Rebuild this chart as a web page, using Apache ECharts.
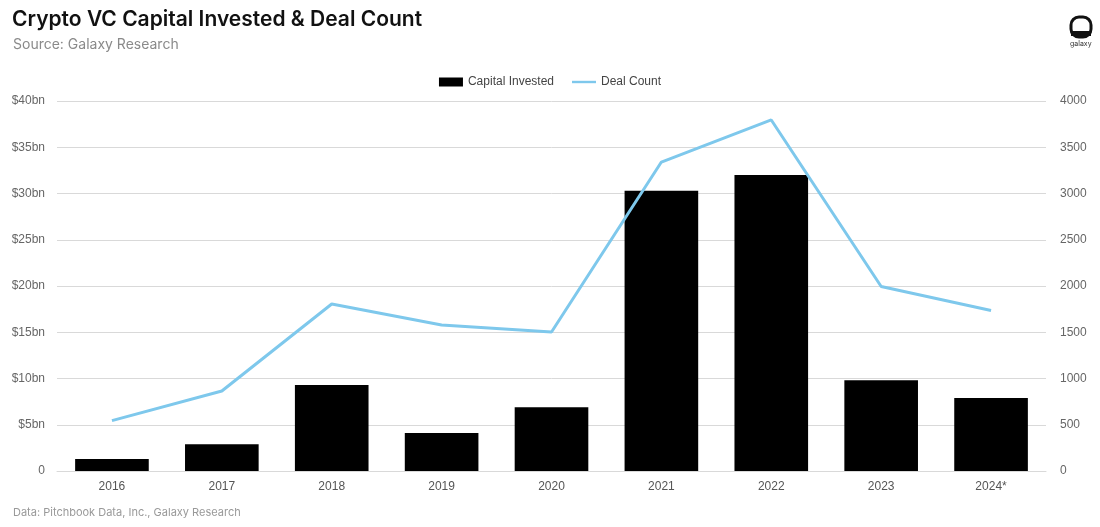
<!DOCTYPE html>
<html><head><meta charset="utf-8">
<script src="https://cdn.jsdelivr.net/npm/echarts@6/dist/echarts.min.js"></script>
<style>html,body{margin:0;padding:0;background:#fff}#c{width:1100px;height:527px}</style>
</head><body><div id="c"></div>
<script>
const categories = ['2016','2017','2018','2019','2020','2021','2022','2023','2024*'];
const capitalInvested = [1.3, 2.9, 9.3, 4.1, 6.9, 30.3, 32.0, 9.8, 7.9];
const dealCount = [545, 865, 1805, 1578, 1503, 3340, 3795, 1995, 1735];
const leftTicks = ['0','$5bn','$10bn','$15bn','$20bn','$25bn','$30bn','$35bn','$40bn'];

const chart = echarts.init(document.getElementById('c'), null, {renderer:'canvas'});
chart.setOption({
  animation:false,
  backgroundColor:'#fff',
  textStyle:{fontFamily:'Liberation Sans, Arial, sans-serif'},
  title:[
    {text:'Crypto VC Capital Invested & Deal Count', left:7, top:4,
     textStyle:{fontFamily:'Inter, sans-serif', fontSize:21, fontWeight:600, color:'#111'}},
    {text:'Source: Galaxy Research', left:8, top:33,
     textStyle:{fontFamily:'Inter, sans-serif', fontSize:14, fontWeight:400, color:'#8a8a8a'}},
    {text:'Data: Pitchbook Data, Inc., Galaxy Research', left:8, top:502,
     textStyle:{fontFamily:'Inter, sans-serif', fontSize:11, fontWeight:400, color:'#999'}}
  ],
  graphic:[
    {type:'rect', shape:{x:1071, y:17, width:20, height:20, r:8}, style:{fill:'none', stroke:'#111', lineWidth:3}},
    {type:'rect', shape:{x:1071, y:31, width:20, height:5}, style:{fill:'#111'}},
    {type:'text', left:1070, top:40, style:{text:'galaxy', fontSize:7, fill:'#333', fontFamily:'Inter, sans-serif'}}
  ],
  legend:{
    top:71, left:'center', itemGap:18, itemWidth:24, itemHeight:9,
    textStyle:{fontSize:12, color:'#444'},
    data:[{name:'Capital Invested', icon:'rect'},
          {name:'Deal Count', icon:'path://M0,0 L30,0 L30,3 L0,3 Z'}]
  },
  grid:{left:57, right:54, top:101, bottom:56},
  xAxis:{
    type:'category', data:categories,
    axisLine:{show:true, lineStyle:{color:'#d9d9d9'}},
    axisTick:{show:false},
    axisLabel:{color:'#555', fontSize:12, margin:10}
  },
  yAxis:[
    {type:'value', min:0, max:40, interval:5,
     axisLabel:{color:'#666', fontSize:12, margin:12, formatter:(v)=>leftTicks[Math.round(v/5)]},
     splitLine:{lineStyle:{color:'#d9d9d9'}}, axisLine:{show:false}, axisTick:{show:false}},
    {type:'value', min:0, max:4000, interval:500,
     axisLabel:{color:'#666', fontSize:12, margin:14, formatter:(v)=>String(v)},
     splitLine:{show:false}, axisLine:{show:false}, axisTick:{show:false}}
  ],
  series:[
    {name:'Capital Invested', type:'bar', yAxisIndex:0, data:capitalInvested,
     barCategoryGap:'33%', itemStyle:{color:'#000'}},
    {name:'Deal Count', type:'line', yAxisIndex:1, data:dealCount,
     symbol:'none', lineStyle:{color:'#7ec8ec', width:3}, itemStyle:{color:'#7ec8ec'}}
  ]
});
</script></body></html>
